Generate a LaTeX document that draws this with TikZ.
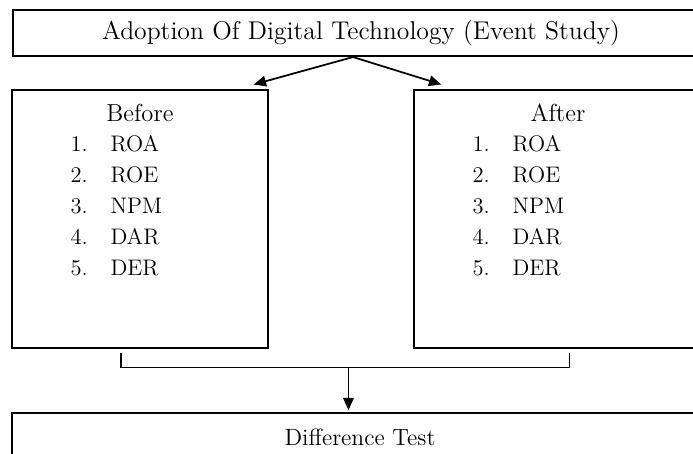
\documentclass[tikz,border=0pt]{standalone}
\usetikzlibrary{positioning,arrows.meta,calc}
\begin{document}
\begin{tikzpicture}[
        x = 0.02cm, y = -0.02cm, % one unit is one pixel of the sketch
        > = {Triangle[length=7pt,width=6pt]}, % arrow head style
        semithick, % line style
        font = \fontsize{12.8}{15}\selectfont
      ]

      \tikzstyle{block}=[rectangle,draw=black,line width=1.2pt,inner sep=0pt]
      \tikzstyle{link}=[->,line width=1pt,shorten >=1pt]
      \tikzstyle{items}=[anchor=north west,inner sep=0pt]

      \clip (0,0) rectangle (693,453);

      \node[block,minimum width=13.92cm,minimum height=0.92cm,font=\fontsize{14.6}{17}\selectfont] (event) at (361,33) {Adoption Of Digital Technology (Event Study)};
      \node[block,minimum width=5.12cm,minimum height=5.16cm] (before) at (140,219) {};
      \node[block,minimum width=5.76cm,minimum height=5.16cm] (after) at (558,219) {};
      \node[block,minimum width=13.92cm,minimum height=0.96cm,font=\fontsize{13.4}{16}\selectfont] (diff) at (360,437) {Difference Test};

      \node[font=\fontsize{14}{16}\selectfont] (beforetitle) at (before.north |- 0,113) {Before};
      \node[font=\fontsize{14}{16}\selectfont] (aftertitle) at (after.north |- 0,113) {After};

      \renewcommand{\arraystretch}{1.18}
      \node[items] (beforelist) at (70,129) {\begin{tabular}{@{}p{0.8cm}@{}l@{}}
        1. & ROA\\ 2. & ROE\\ 3. & NPM\\ 4. & DAR\\ 5. & DER
      \end{tabular}};
      \node[items] (afterlist) at (472,129) {\begin{tabular}{@{}p{0.8cm}@{}l@{}}
        1. & ROA\\ 2. & ROE\\ 3. & NPM\\ 4. & DAR\\ 5. & DER
      \end{tabular}};

      % split from the top box
      \coordinate (fork) at ([xshift=-0.16cm]event.south);
      \draw[link] (fork) -- ([xshift=-0.34cm,yshift=0.08cm]before.north east);
      \draw[link] (fork) -- ([xshift=0.6cm,yshift=0.08cm]after.north west);

      % bracket joining both periods
      \coordinate (bl) at ([xshift=-0.38cm,yshift=-0.08cm]before.south);
      \coordinate (br) at ([xshift=3.14cm,yshift=-0.08cm]after.south west);
      \draw[line width=0.6pt] (bl) -- ++(0,14) -| (br);
      \coordinate (join) at ($(bl)!0.5!(br) + (3,14)$);
      \draw[link] (join) -- (join |- diff.north);

    \end{tikzpicture}
\end{document}
